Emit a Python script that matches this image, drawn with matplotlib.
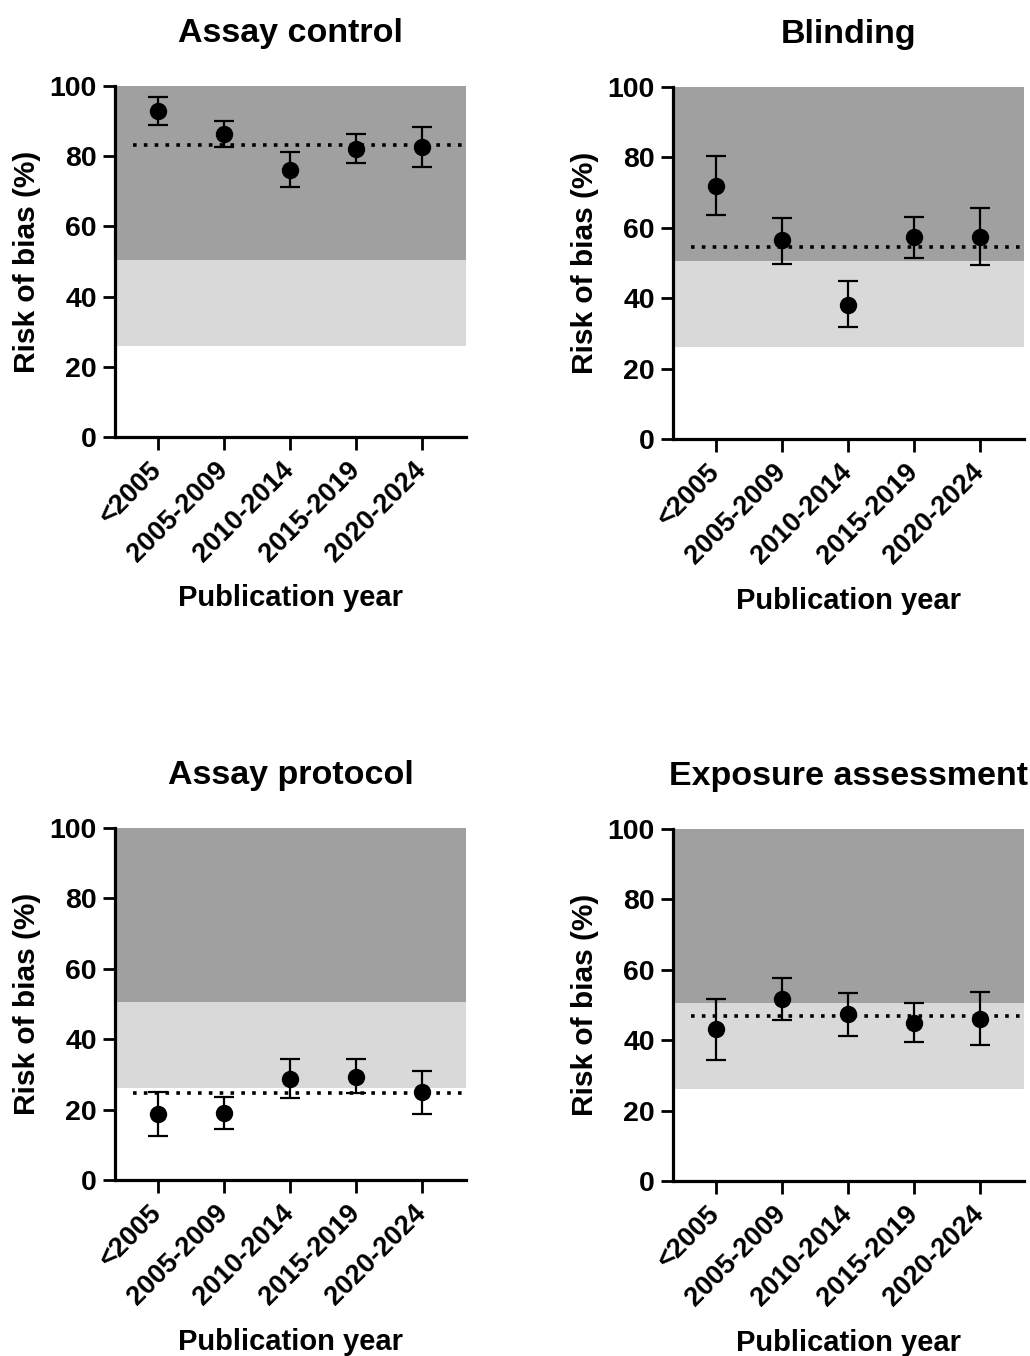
import matplotlib
matplotlib.use("Agg")
import numpy as np
from matplotlib import pyplot as plt
from matplotlib.transforms import ScaledTranslation

plt.rcParams['font.family'] = ['Liberation Sans', 'DejaVu Sans']
plt.rcParams['font.weight'] = 'bold'

# data
periods = ['<2005', '2005-2009', '2010-2014', '2015-2019', '2020-2024']
titles = ['Assay control', 'Blinding', 'Assay protocol', 'Exposure assessment']

means = [
    [92.9, 86.4, 76.0, 82.1, 82.7],
    [72.0, 56.4, 38.2, 57.4, 57.4],
    [18.7, 18.9, 28.8, 29.4, 24.9],
    [43.1, 51.7, 47.4, 44.9, 46.0],
]
upper = [
    [97.0, 90.1, 81.1, 86.4, 88.3],
    [80.3, 62.7, 44.8, 63.2, 65.7],
    [24.9, 23.5, 34.4, 34.3, 31.1],
    [51.8, 57.8, 53.3, 50.6, 53.6],
]
lower = [
    [88.8, 82.7, 71.1, 78.0, 76.9],
    [63.5, 49.8, 31.8, 51.5, 49.5],
    [12.5, 14.4, 23.3, 24.6, 18.7],
    [34.3, 45.7, 41.1, 39.4, 38.5],
]
overall = [83.1, 54.5, 24.8, 46.9]

# risk bands (low / high)
band_light = (26.0, 50.5)
band_dark = (50.5, 100.0)

fig = plt.figure(figsize=(10.3, 13.56), dpi=100)
W, H = 1030.0, 1356.0
# left px, y0 px (value 0), y100 px
boxes = [(115, 437, 86), (673, 439, 87), (115, 1180, 828), (673, 1181, 829)]

x = np.arange(len(periods))
shift = ScaledTranslation(6 / 100, -5 / 100, fig.dpi_scale_trans)
for i, (lx, y0, y1) in enumerate(boxes):
    ax = fig.add_axes([lx / W, 1 - y0 / H, 351 / W, (y0 - y1) / H])
    ax.axhspan(band_light[0], band_light[1], color='#d9d9d9', lw=0, zorder=0)
    ax.axhspan(band_dark[0], band_dark[1], color='#a0a0a0', lw=0, zorder=0)
    ax.axhline(overall[i], xmin=0.05, xmax=1.0, color='black', lw=2.6,
               linestyle=(0, (1, 2.0)), zorder=2)
    m = np.array(means[i])
    err = [m - np.array(lower[i]), np.array(upper[i]) - m]
    ax.errorbar(x, m, yerr=err, fmt='o', color='black', ms=11.5, elinewidth=1.6,
                capsize=7, capthick=1.6, zorder=3)
    ax.set_xlim(-0.65, 4.67)
    ax.set_ylim(0, 100)
    ax.set_yticks([0, 20, 40, 60, 80, 100])
    ax.set_xticks(x)
    ax.set_xticklabels(periods, rotation=45, ha='right', va='center',
                       rotation_mode='anchor', fontsize=19.5, fontweight='bold')
    for lab in ax.get_xticklabels():
        lab.set_transform(lab.get_transform() + shift)
    for lab in ax.get_yticklabels():
        lab.set_fontsize(20.5)
        lab.set_fontweight('bold')
    for s in ['top', 'right']:
        ax.spines[s].set_visible(False)
    for s in ['left', 'bottom']:
        ax.spines[s].set_linewidth(2.3)
    ax.tick_params(axis='both', width=2.0, length=9, pad=4)
    ax.tick_params(axis='x', pad=12)
    ax.set_title(titles[i], fontsize=24.5, fontweight='bold', pad=32)
    ax.set_ylabel('Risk of bias (%)', fontsize=21.5, fontweight='bold')
    ax.yaxis.set_label_coords(-0.21, 0.5)
    ax.set_xlabel('Publication year', fontsize=21, fontweight='bold')
    ax.xaxis.set_label_coords(0.5, -0.42)

plt.savefig('out.png', dpi=100)
